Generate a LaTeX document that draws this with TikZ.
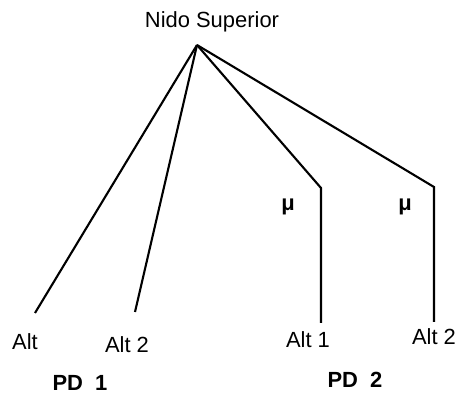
\documentclass[tikz,border=0pt]{standalone}
\usepackage{fontspec}
\setmainfont{Liberation Sans}
\tikzset{
    ast/.style={line width=1.5pt},
    etikett/.style={font=\fontsize{15.6}{18}\selectfont, inner sep=1pt},
    gruppe/.style={etikett, font=\fontsize{15.6}{18}\selectfont\bfseries}
}
\begin{document}
\begin{tikzpicture}
            \useasboundingbox (0,0) rectangle (11.6,10);

            % Nest oben
            \node[etikett] (nest) at (5.3,9.45) {Nido Superior};
            \coordinate (spitze) at (4.925,8.875);

            % Endpunkte der Aeste
            \coordinate (a1) at (0.875,2.175);
            \coordinate (a2) at (3.375,2.2);
            \coordinate (m1) at (8.025,5.3);
            \coordinate (m2) at (10.85,5.325);
            \coordinate (b1) at (8.025,1.925);
            \coordinate (b2) at (10.85,1.95);

            % Aeste
            \draw[ast] (spitze) -- (a1);
            \draw[ast] (spitze) -- (a2);
            \draw[ast] (spitze) -- (m1) -- (b1);
            \draw[ast] (spitze) -- (m2) -- (b2);

            % Beschriftung mu
            \node[gruppe] (mu1) at (7.2,4.825) {μ};
            \node[gruppe] (mu2) at (10.125,4.825) {μ};

            % Alternativen
            \node[etikett] (alt1) at (0.625,1.45) {Alt};
            \node[etikett] (alt2) at (3.175,1.375) {Alt 2};
            \node[etikett] (alt3) at (7.7,1.5) {Alt 1};
            \node[etikett] (alt4) at (10.85,1.575) {Alt 2};

            % Gruppen
            \node[gruppe] (pd1) at (2.0,0.425) {PD\ \ 1};
            \node[gruppe] (pd2) at (8.875,0.5) {PD\ \ 2};
        \end{tikzpicture}
\end{document}
